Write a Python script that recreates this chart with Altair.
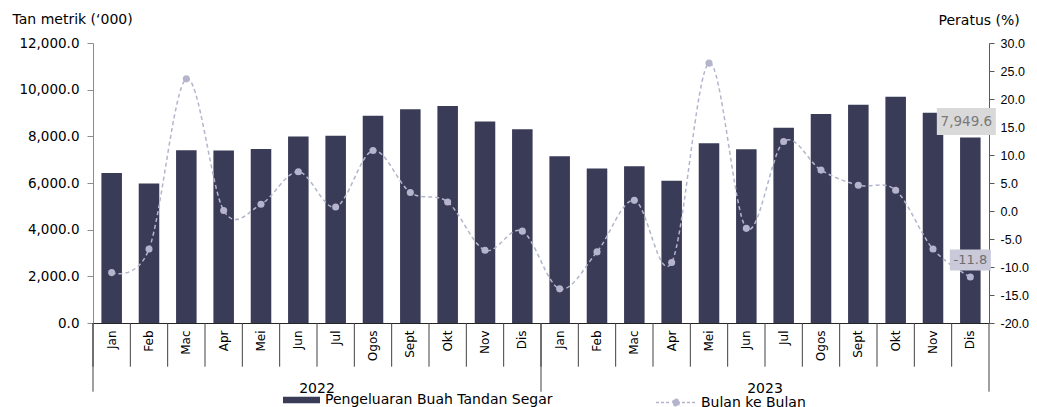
import altair as alt
import pandas as pd

MONTHS = ["Jan", "Feb", "Mac", "Apr", "Mei", "Jun", "Jul", "Ogos", "Sept", "Okt", "Nov", "Dis"]
YEARS = ["2022", "2023"]
PROD_2022 = [6430, 5980, 7400, 7390, 7460, 7990, 8030, 8880, 9160, 9300, 8640, 8300]
PROD_2023 = [7150, 6620, 6720, 6100, 7700, 7450, 8370, 8960, 9350, 9700, 9010, 7949.6]
MOM_2022 = [-11.0, -6.8, 23.6, 0.1, 1.2, 7.0, 0.7, 10.8, 3.3, 1.6, -7.0, -3.6]
MOM_2023 = [-13.9, -7.3, 1.9, -9.2, 26.4, -3.1, 12.4, 7.3, 4.6, 3.7, -6.8, -11.8]
BAR_NAME = "Pengeluaran Buah Tandan Segar"
LINE_NAME = "Bulan ke Bulan"
LEFT_TITLE = "Tan metrik (\u2018000)"
RIGHT_TITLE = "Peratus (%)"

NAVY = "#393b57"
LAV = "#b4b4cc"
FONT = "DejaVu Sans"
FONT2 = "Liberation Sans"

rows = []
i = 0
for y, prod, mom in zip(YEARS, [PROD_2022, PROD_2023], [MOM_2022, MOM_2023]):
    for m, p, r in zip(MONTHS, prod, mom):
        rows.append({"key": f"{m} {y}", "idx": i, "month": m, "year": y,
                     "prod": p, "mom": r, "s1": BAR_NAME, "s2": LINE_NAME,
                     "prod_lbl": f"{p:,.1f}", "mom_lbl": f"{r:.1f}"})
        i += 1
df = pd.DataFrame(rows)
KEYS = list(df["key"])
LAST = KEYS[-1]

X_SCALE = alt.Scale(type="band", domain=KEYS, paddingInner=0, paddingOuter=0)
Y_LEFT = alt.Scale(domain=[0, 12000], nice=False, zero=True)
Y_RIGHT = alt.Scale(domain=[-20, 30], nice=False, zero=False)

y_left_axis = alt.Axis(
    values=[0, 2000, 4000, 6000, 8000, 10000, 12000], format=",.1f",
    title=LEFT_TITLE, titleAngle=0, titleAlign="left", titleBaseline="middle",
    titleX=-81, titleY=-24, titleFont=FONT, titleFontSize=14, titleFontWeight="normal",
    titleColor="#000000", labelFont=FONT, labelFontSize=13.5, labelColor="#000000",
    labelPadding=8, tickSize=6, tickColor="#8c8c8c", domainColor="#8c8c8c", grid=False,
)
y_right_axis = alt.Axis(
    orient="right", values=[-20, -15, -10, -5, 0, 5, 10, 15, 20, 25, 30],
    labelExpr="datum.value < 0 ? '-' + format(-datum.value, '.1f') : format(datum.value, '.1f')",
    title=RIGHT_TITLE, titleAngle=0, titleAlign="left", titleBaseline="middle",
    titleX=-51, titleY=-23, titleFont=FONT, titleFontSize=14, titleFontWeight="normal",
    titleColor="#000000", labelFont=FONT2, labelFontSize=12.5, labelColor="#000000",
    labelPadding=6, tickSize=5, tickColor="#595959", domainColor="#595959", grid=False,
)
x_axis = alt.Axis(
    title=None, labelExpr="split(datum.value, ' ')[0]", labelAngle=270,
    labelPadding=7, labelFont=FONT, labelFontSize=12, labelColor="#000000",
    ticks=False, domainColor="#262626", labelOverlap=False, grid=False,
)


def xenc(**kw):
    return alt.X("key:N", scale=X_SCALE, axis=x_axis, **kw)


def yleft():
    return alt.Y("prod:Q", scale=Y_LEFT, axis=y_left_axis)


def yright():
    return alt.Y("mom:Q", scale=Y_RIGHT, axis=y_right_axis)


base = alt.Chart(df)

bars = base.mark_bar(width=alt.RelativeBandSize(0.55)).encode(
    x=xenc(),
    y=yleft(),
    color=alt.Color("s1:N", scale=alt.Scale(domain=[BAR_NAME], range=[NAVY]),
                    legend=alt.Legend(orient="none", legendX=190, legendY=338.5, title=None,
                                      symbolType="M-1,-0.18H1V0.18H-1Z", symbolSize=1369,
                                      symbolStrokeWidth=0, labelOffset=5, padding=0,
                                      labelLimit=0,
                                      labelFont=FONT, labelFontSize=14, labelColor="#000000")),
)

bar_lbl_bg = base.transform_filter(alt.datum.key == LAST).mark_point(
    shape="M-1,-0.458H1V0.458H-1Z", size=3481, filled=True, opacity=1,
    color="#d9d9d9", xOffset=-4, yOffset=-16,
).encode(x=xenc(), y=yleft())

bar_lbl_txt = base.transform_filter(alt.datum.key == LAST).mark_text(
    font=FONT, fontSize=13.5, color="#7a7a7a", dx=-4, dy=-16, baseline="middle",
).encode(x=xenc(), y=yleft(), text="prod_lbl:N")

month_sep = base.mark_rule(color="#404040", strokeWidth=1).encode(
    x=xenc(bandPosition=0), y=alt.value(280), y2=alt.value(323.7))

year_sep = base.transform_filter(alt.datum.month == MONTHS[0]).mark_rule(
    color="#404040", strokeWidth=1).encode(
    x=xenc(bandPosition=0), y=alt.value(280), y2=alt.value(348.7))

end_sep = base.transform_filter(alt.datum.key == LAST).mark_rule(
    color="#404040", strokeWidth=1).encode(
    x=xenc(bandPosition=1), y=alt.value(280), y2=alt.value(348.7))

year_txt = base.transform_filter(alt.datum.month == MONTHS[6]).mark_text(
    font=FONT, fontSize=14, color="#000000", baseline="middle",
).encode(x=xenc(bandPosition=0), y=alt.value(345.5), text="year:N")

line = base.mark_line(interpolate="cardinal", strokeDash=[4, 3], strokeWidth=1.5).encode(
    x=xenc(),
    y=yright(),
    order=alt.Order("idx:Q"),
    stroke=alt.Stroke("s2:N", scale=alt.Scale(domain=[LINE_NAME], range=[LAV]),
                      legend=alt.Legend(orient="none", legendX=562, legendY=338.5, title=None,
                                        symbolType="M-1,0H-0.3M0.3,0H1M0.17,0A0.17,0.17,0,1,1,-0.17,0A0.17,0.17,0,1,1,0.17,0",
                                        symbolSize=1600, symbolStrokeWidth=1.3, symbolDash=[3, 2],
                                        symbolFillColor=LAV, labelOffset=4, padding=0,
                                        labelLimit=0,
                                        labelFont=FONT, labelFontSize=14, labelColor="#000000")),
)

pts = base.mark_point(filled=True, size=50, opacity=1, color=LAV).encode(
    x=xenc(), y=yright())

mom_bg = base.transform_filter(alt.datum.key == LAST).mark_point(
    shape="M-1,-0.512H1V0.512H-1Z", size=1681, filled=True, opacity=1,
    color="#c9c9da", yOffset=-17,
).encode(x=xenc(), y=yright())

mom_txt = base.transform_filter(alt.datum.key == LAST).mark_text(
    font=FONT, fontSize=13, color="#6e6e6e", dy=-17, baseline="middle",
).encode(x=xenc(), y=yright(), text="mom_lbl:N")

left = alt.layer(bars, month_sep, year_sep, end_sep, year_txt, bar_lbl_bg, bar_lbl_txt)
right = alt.layer(line, pts, mom_bg, mom_txt)

chart = alt.layer(left, right).resolve_scale(y="independent").properties(
    width=896, height=280,
    padding={"left": 85, "top": 35, "right": 40, "bottom": 84},
    autosize=alt.AutoSizeParams(type="none"),
    background="#ffffff",
).configure_view(stroke=None)

chart.save("out.html", embed_options={"renderer": "svg", "actions": False})
